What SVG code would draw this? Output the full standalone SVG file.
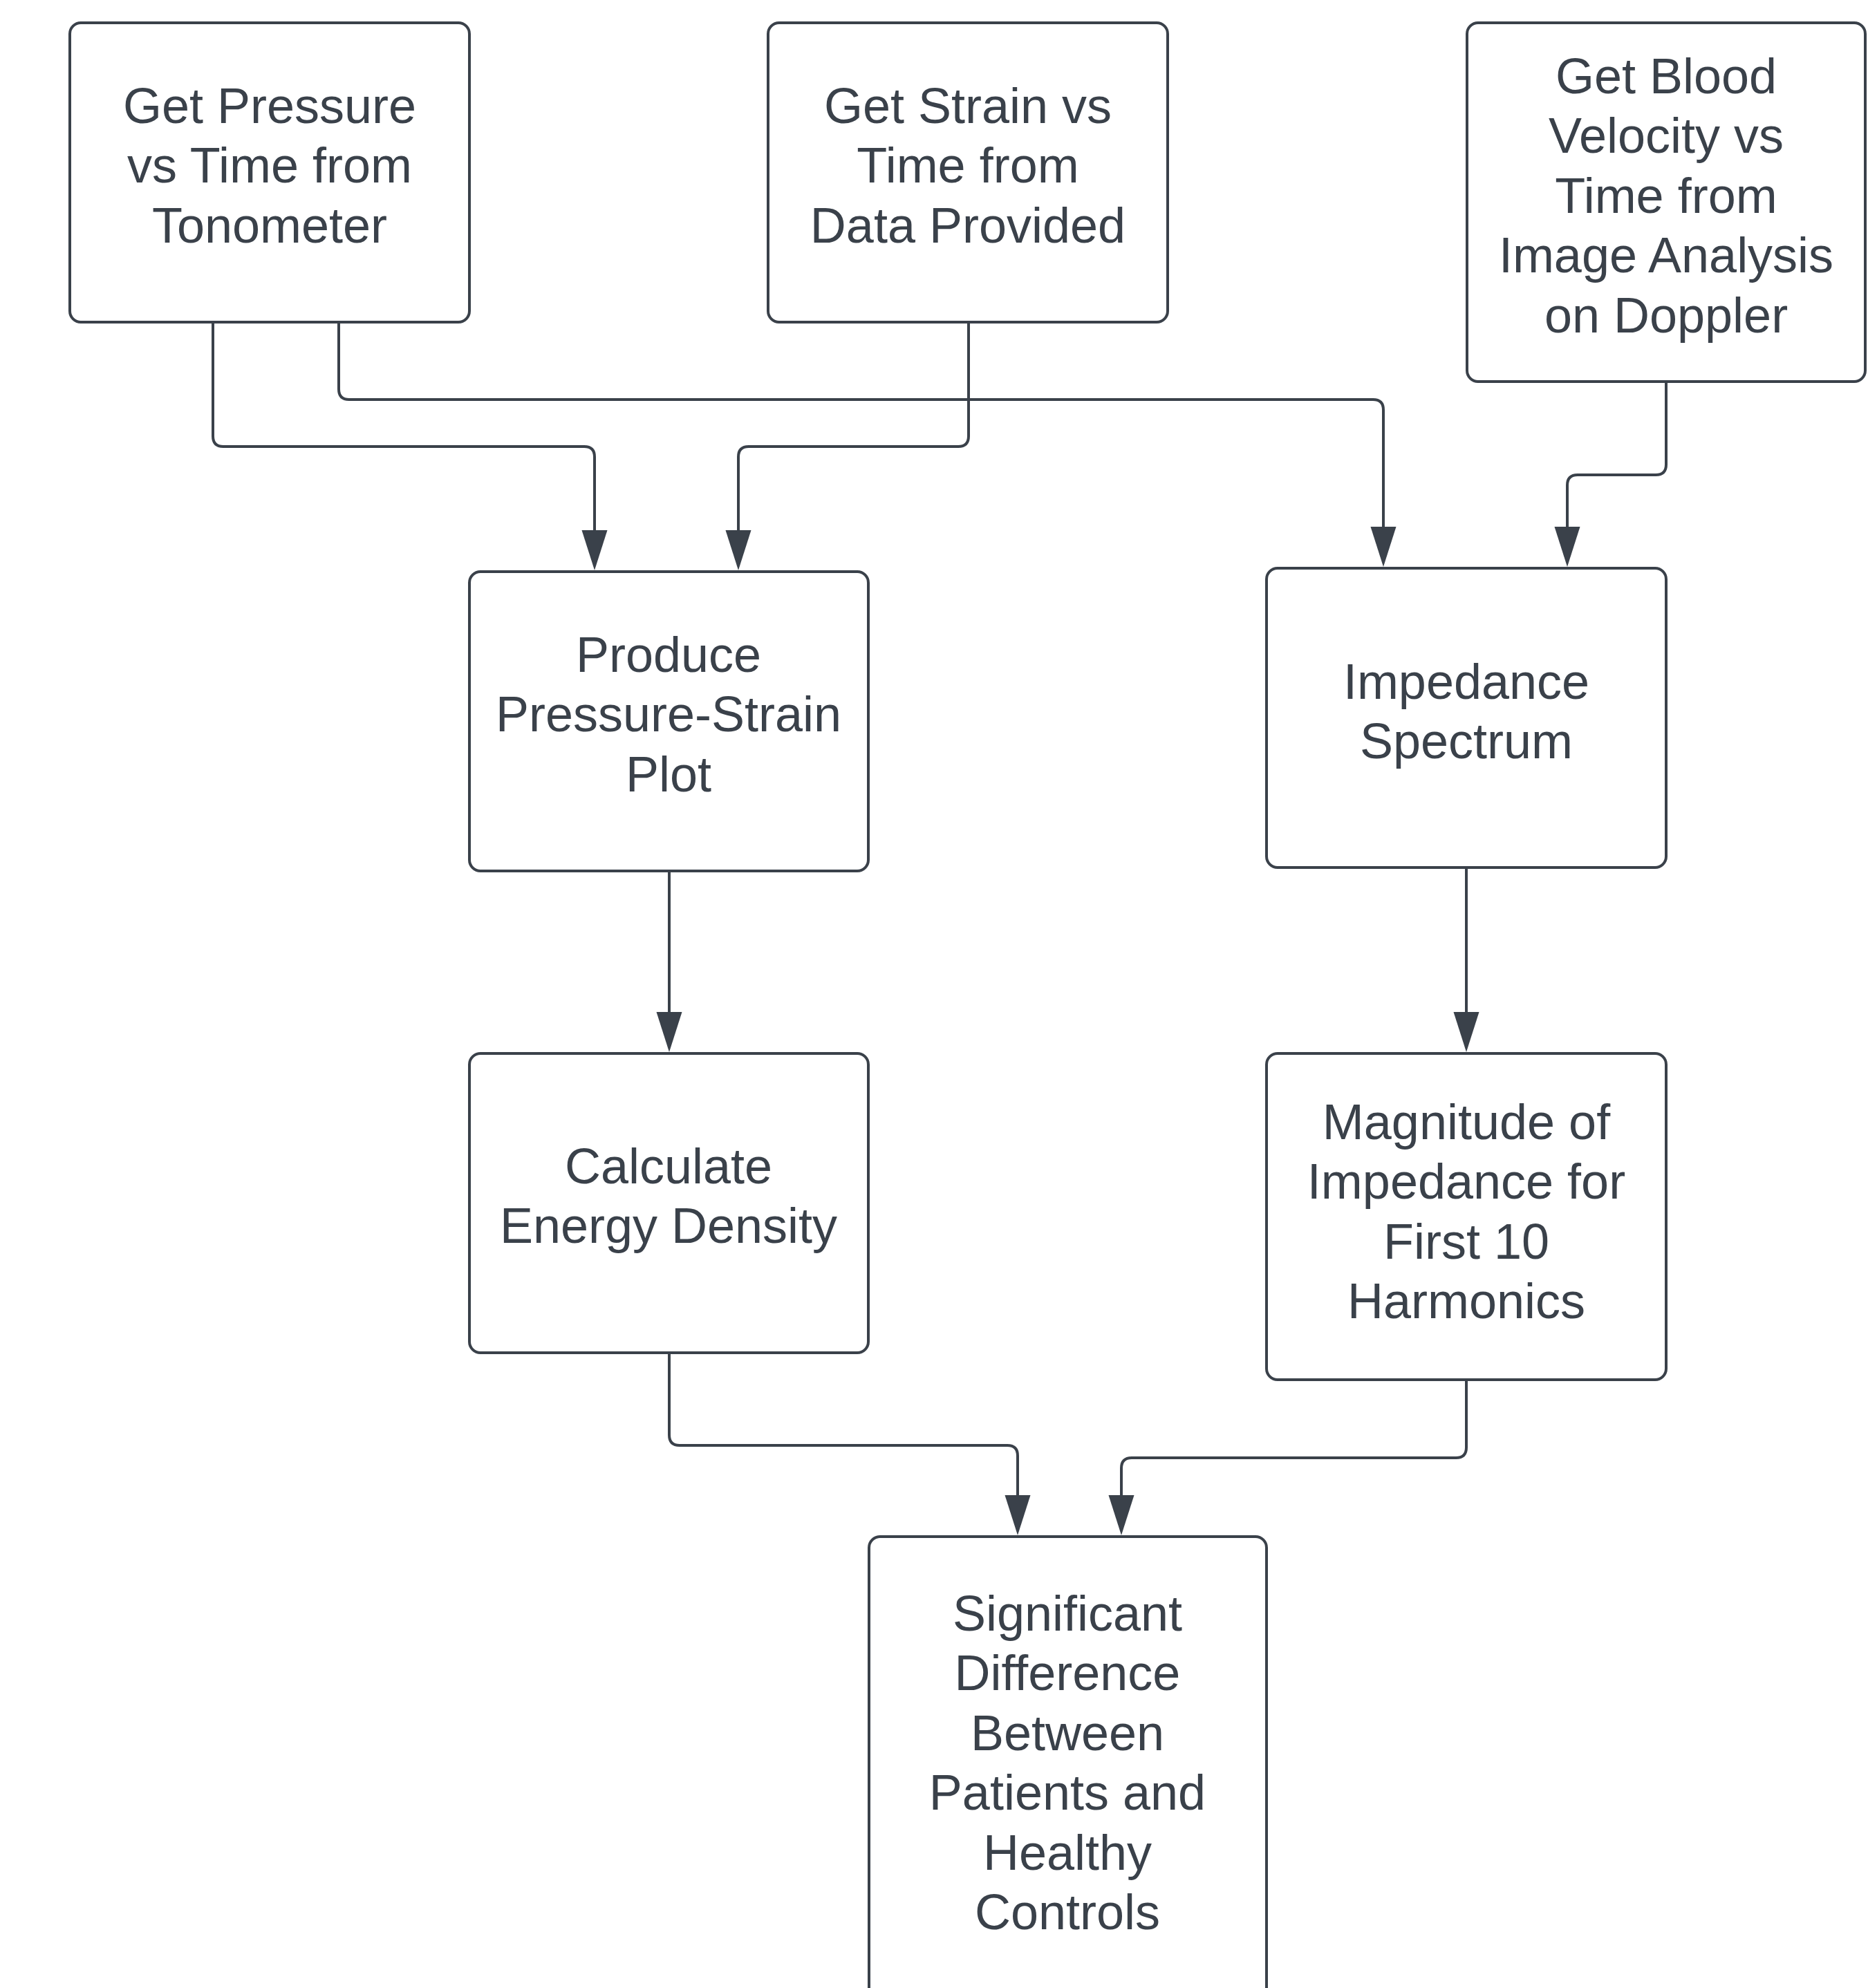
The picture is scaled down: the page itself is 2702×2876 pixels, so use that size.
<svg xmlns="http://www.w3.org/2000/svg" width="2702" height="2876" viewBox="0 0 2702 2876">
<style>
.box{fill:#ffffff;stroke:#3a414a;stroke-width:4}
.lbl{font-family:"Liberation Sans",Arial,sans-serif;font-size:72px;fill:#3a414a;text-anchor:middle}
.edge{fill:none;stroke:#3a414a;stroke-width:4;marker-end:url(#arr)}
</style>
<defs>
<marker id="arr" markerUnits="userSpaceOnUse" markerWidth="60" markerHeight="40" viewBox="0 -20 60 40" refX="0" refY="0" orient="auto" overflow="visible">
<path d="M0,-18.5 L58,0 L0,18.5 Z" fill="#3a414a"/>
</marker>
</defs>
<rect width="2702" height="2876" fill="#ffffff"/>
<g id="connectors">
<path class="edge" d="M308,466 V631 Q308,646 323,646 H845 Q860,646 860,661 V767"/>
<path class="edge" d="M490,466 V563 Q490,578 505,578 H1986 Q2001,578 2001,593 V762"/>
<path class="edge" d="M1401,466 V631 Q1401,646 1386,646 H1083 Q1068,646 1068,661 V767"/>
<path class="edge" d="M2410,552 V672 Q2410,687 2395,687 H2282 Q2267,687 2267,702 V762"/>
<path class="edge" d="M968,1260 V1464"/>
<path class="edge" d="M2121,1255 V1464"/>
<path class="edge" d="M968,1957 V2076 Q968,2091 983,2091 H1457 Q1472,2091 1472,2106 V2163"/>
<path class="edge" d="M2121,1996 V2094 Q2121,2109 2106,2109 H1637 Q1622,2109 1622,2124 V2163"/>
</g>
<g id="nodeA">
<rect class="box" x="101" y="33" width="578" height="433" rx="16"/>
<text class="lbl"><tspan x="390" y="178">Get Pressure</tspan><tspan x="390" y="264">vs Time from</tspan><tspan x="390" y="351">Tonometer</tspan></text>
</g>
<g id="nodeB">
<rect class="box" x="1111" y="33" width="578" height="433" rx="16"/>
<text class="lbl"><tspan x="1400" y="178">Get Strain vs</tspan><tspan x="1400" y="264">Time from</tspan><tspan x="1400" y="351">Data Provided</tspan></text>
</g>
<g id="nodeC">
<rect class="box" x="2122" y="33" width="576" height="519" rx="16"/>
<text class="lbl"><tspan x="2410" y="135">Get Blood</tspan><tspan x="2410" y="221">Velocity vs</tspan><tspan x="2410" y="308">Time from</tspan><tspan x="2410" y="394">Image Analysis</tspan><tspan x="2410" y="481">on Doppler</tspan></text>
</g>
<g id="nodeD">
<rect class="box" x="679" y="827" width="577" height="433" rx="16"/>
<text class="lbl"><tspan x="967" y="972">Produce</tspan><tspan x="967" y="1058">Pressure-Strain</tspan><tspan x="967" y="1145">Plot</tspan></text>
</g>
<g id="nodeE">
<rect class="box" x="1832" y="822" width="578" height="433" rx="16"/>
<text class="lbl"><tspan x="2121" y="1011">Impedance</tspan><tspan x="2121" y="1097">Spectrum</tspan></text>
</g>
<g id="nodeF">
<rect class="box" x="679" y="1524" width="577" height="433" rx="16"/>
<text class="lbl"><tspan x="967" y="1712">Calculate</tspan><tspan x="967" y="1798">Energy Density</tspan></text>
</g>
<g id="nodeG">
<rect class="box" x="1832" y="1524" width="578" height="472" rx="16"/>
<text class="lbl"><tspan x="2121" y="1648">Magnitude of</tspan><tspan x="2121" y="1734">Impedance for</tspan><tspan x="2121" y="1821">First 10</tspan><tspan x="2121" y="1907">Harmonics</tspan></text>
</g>
<g id="nodeH">
<rect class="box" x="1257" y="2223" width="575" height="720" rx="16"/>
<text class="lbl"><tspan x="1544" y="2359">Significant</tspan><tspan x="1544" y="2445">Difference</tspan><tspan x="1544" y="2532">Between</tspan><tspan x="1544" y="2618">Patients and</tspan><tspan x="1544" y="2705">Healthy</tspan><tspan x="1544" y="2791">Controls</tspan></text>
</g>
</svg>
